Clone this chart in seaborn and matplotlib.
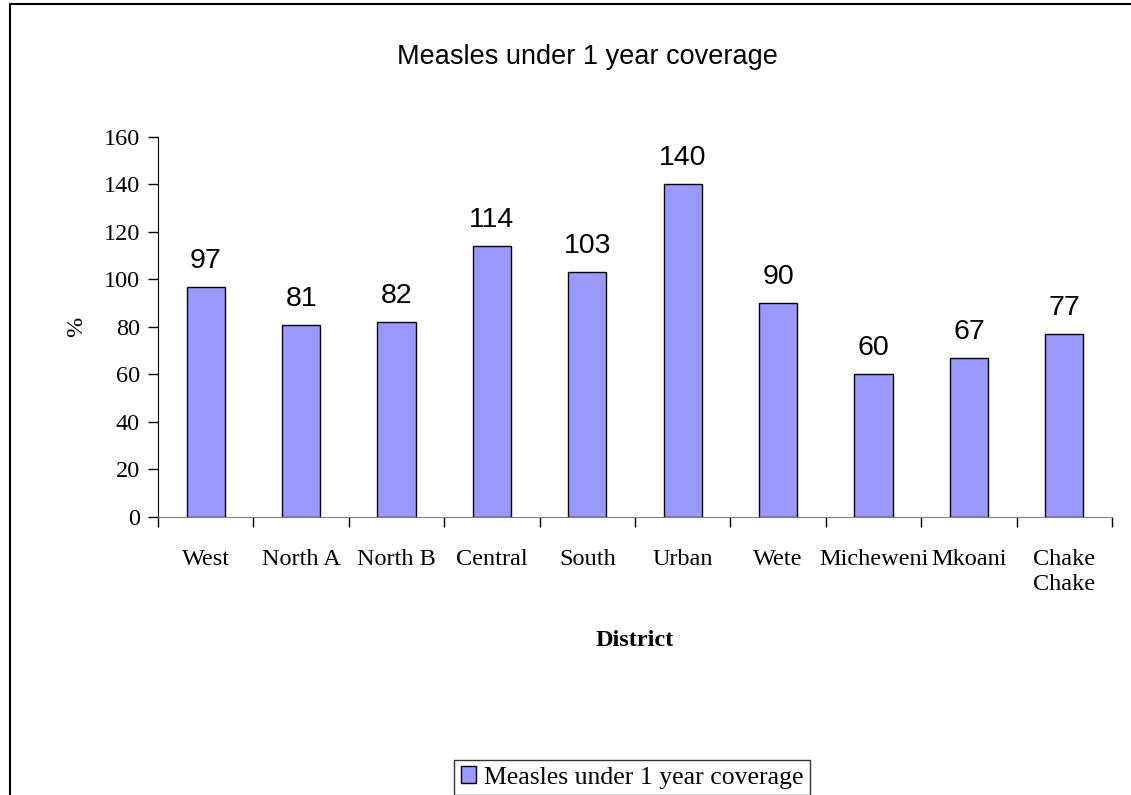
import pandas as pd
import matplotlib.pyplot as plt
import seaborn as sns
from matplotlib.lines import Line2D

# data
districts = ['West', 'North A', 'North B', 'Central', 'South', 'Urban',
             'Wete', 'Micheweni', 'Mkoani', 'Chake\nChake']
coverage = [97, 81, 82, 114, 103, 140, 90, 60, 67, 77]
series_name = 'Measles under 1 year coverage'

df = pd.DataFrame({'District': districts, 'Coverage': coverage})

sns.set_style('white')
plt.rcParams['text.color'] = 'black'
plt.rcParams['xtick.color'] = 'black'
plt.rcParams['ytick.color'] = 'black'
plt.rcParams['axes.labelcolor'] = 'black'
serif = ['Liberation Serif', 'DejaVu Serif']
sans = ['Liberation Sans', 'DejaVu Sans']

fig = plt.figure(figsize=(11.31, 7.95), dpi=100)
ax = fig.add_axes([0.1397, 0.3497, 0.8435, 0.478])

sns.barplot(data=df, x='District', y='Coverage', color='#9999FF',
            edgecolor='black', linewidth=1, width=0.4, saturation=1,
            label=series_name, ax=ax)

# value labels above bars
for i, v in enumerate(coverage):
    ax.text(i, v + 5.5, str(v), ha='center', va='bottom', fontsize=20.5,
            family=sans)

ax.set_ylim(0, 160)
ax.set_xlim(-0.5, len(districts) - 0.5)
ax.set_yticks(range(0, 161, 20))
ax.set_yticklabels([str(t) for t in range(0, 161, 20)], family=serif, fontsize=17.5)

# category ticks sit between the bars
ax.set_xticks([i - 0.5 for i in range(len(districts) + 1)], minor=False)
ax.set_xticklabels([])
ax.set_xticks(range(len(districts)), minor=True)
ax.set_xticklabels(districts, minor=True, family=serif, fontsize=17.5,
                   linespacing=1.25)
ax.tick_params(axis='x', which='major', direction='out', length=7, width=1,
               color='black', bottom=True)
ax.tick_params(axis='x', which='minor', length=0, pad=23)
ax.tick_params(axis='y', direction='out', length=7, width=1, color='black',
               left=True, pad=6)

for side in ['top', 'right']:
    ax.spines[side].set_visible(False)
ax.spines['left'].set_color('black')
ax.spines['bottom'].set_color('#808080')

fig.text(587 / 1131, 1 - 57 / 795, series_name, fontsize=19.5, family=sans,
         ha='center', va='center')
ax.set_xlabel('District', family=serif, fontsize=17.5, fontweight='bold',
              labelpad=25)
ax.set_ylabel('%', family=serif, fontsize=17.5, labelpad=12)

leg = ax.legend(loc='lower center', bbox_to_anchor=(632 / 1131, 0),
                bbox_transform=fig.transFigure, frameon=True,
                prop={'family': serif, 'size': 18.5}, fancybox=False,
                handlelength=0.6, handleheight=0.6, handletextpad=0.3,
                borderpad=0.25, borderaxespad=0)
leg.get_frame().set_edgecolor('black')
leg.get_frame().set_linewidth(1)

# outer chart border (left and top visible)
fig.add_artist(Line2D([10 / 1131, 10 / 1131], [0, 1 - 4 / 795],
                      transform=fig.transFigure, color='black', lw=1.5))
fig.add_artist(Line2D([10 / 1131, 1], [1 - 4 / 795, 1 - 4 / 795],
                      transform=fig.transFigure, color='black', lw=1.5))

plt.savefig('out.png', dpi=100)
